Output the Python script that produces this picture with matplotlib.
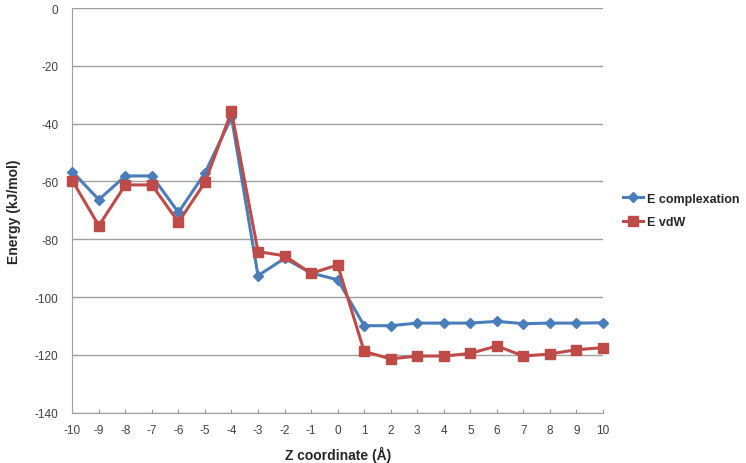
import numpy as np
import matplotlib.pyplot as plt

plt.rcParams['font.family'] = ['Liberation Sans', 'DejaVu Sans']
plt.rcParams['axes.unicode_minus'] = False

z = list(range(-10, 11))
e_complex = [-56.6, -66.3, -58.1, -58.1, -70.7, -57.1, -37.8, -92.6, -86.6, -91.7, -94.0,
             -109.9, -109.9, -109.0, -109.0, -109.0, -108.4, -109.2, -109.0, -109.0, -108.9]
e_vdw = [-59.7, -75.3, -61.2, -61.2, -74.1, -60.3, -35.8, -84.3, -85.7, -91.8, -88.9,
         -118.8, -121.4, -120.4, -120.4, -119.5, -116.9, -120.4, -119.7, -118.2, -117.5]

blue = '#4A7EBB'
red = '#BE4B48'
gray = '#A0A0A0'
txt = '#404040'

fig = plt.figure(figsize=(7.46, 4.64), dpi=100)
ax = fig.add_axes([0.0969, 0.1084, 0.7114, 0.8722])

ax.plot(z, e_complex, color=blue, lw=2.2, marker='D', ms=5, label='E complexation',
        zorder=3, clip_on=False)
ax.plot(z, e_vdw, color=red, lw=2.2, marker='s', ms=6.5, label='E vdW',
        zorder=3, clip_on=False)

ax.set_xlim(-10, 10)
ax.set_ylim(-140, 0)
ax.set_xticks(z)
ax.set_yticks(np.arange(-140, 1, 20))
ax.grid(axis='y', color=gray, lw=1)
ax.set_axisbelow(True)
for s in ['top', 'right']:
    ax.spines[s].set_visible(False)
for s in ['left', 'bottom']:
    ax.spines[s].set_color(gray)
ax.tick_params(axis='x', colors=txt, labelsize=8.5, direction='in', length=3, color=gray, pad=8)
ax.tick_params(axis='y', colors=txt, labelsize=8.5, length=0, pad=10)

ax.set_xlabel('Z coordinate (Å)', fontsize=10, fontweight='bold', color='#262626', labelpad=7)
ax.set_ylabel('Energy (kJ/mol)', fontsize=10, fontweight='bold', color='#262626', labelpad=10)

leg = ax.legend(loc='center left', bbox_to_anchor=(1.0166, 0.5), frameon=False, fontsize=9,
                handlelength=1.6, handletextpad=0.3, labelspacing=0.9)
for t in leg.get_texts():
    t.set_fontweight('bold')
    t.set_color('#262626')

fig.savefig('out.png', dpi=100)
